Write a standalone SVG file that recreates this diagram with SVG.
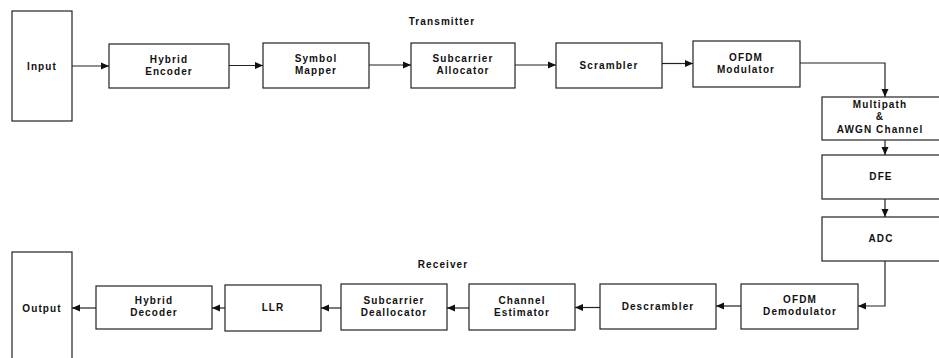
<svg xmlns="http://www.w3.org/2000/svg" width="939" height="358" viewBox="0 0 939 358">
<style>
.box{fill:#fff;stroke:#222;stroke-width:1.2}
.t{font-family:"Liberation Sans",Arial,sans-serif;font-weight:bold;font-size:10px;letter-spacing:1.1px;fill:#111;text-anchor:middle}
.c{fill:none;stroke:#222;stroke-width:1.2}
</style>
<defs>
<marker id="ah" markerUnits="userSpaceOnUse" markerWidth="9" markerHeight="8" refX="8" refY="4" orient="auto">
<path d="M0,0.5 L8,4 L0,7.5 Z" fill="#111"/>
</marker>
</defs>
<rect width="939" height="358" fill="#fff"/>
<text class="t" x="442" y="25">Transmitter</text>
<text class="t" x="443" y="268">Receiver</text>
<g id="input"><rect class="box" x="12" y="11" width="60" height="110"/><text class="t" x="42" y="70">Input</text></g>
<g id="hybrid-encoder"><rect class="box" x="109" y="44" width="120" height="44"/><text class="t" x="169" y="63">Hybrid</text><text class="t" x="169" y="75">Encoder</text></g>
<g id="symbol-mapper"><rect class="box" x="263" y="43" width="106" height="45"/><text class="t" x="316" y="62">Symbol</text><text class="t" x="316" y="74">Mapper</text></g>
<g id="subcarrier-allocator"><rect class="box" x="411" y="43" width="104" height="45"/><text class="t" x="463" y="62">Subcarrier</text><text class="t" x="463" y="74">Allocator</text></g>
<g id="scrambler"><rect class="box" x="556" y="43" width="106" height="45"/><text class="t" x="609" y="69">Scrambler</text></g>
<g id="ofdm-modulator"><rect class="box" x="693" y="41" width="107" height="46"/><text class="t" x="746" y="61">OFDM</text><text class="t" x="746" y="73">Modulator</text></g>
<g id="channel"><rect class="box" x="822" y="97" width="118" height="43"/><text class="t" x="880" y="108">Multipath</text><text class="t" x="880" y="120">&amp;</text><text class="t" x="880" y="133">AWGN Channel</text></g>
<g id="dfe"><rect class="box" x="822" y="155" width="118" height="44"/><text class="t" x="881" y="180">DFE</text></g>
<g id="adc"><rect class="box" x="822" y="217" width="118" height="44"/><text class="t" x="881" y="242">ADC</text></g>
<g id="ofdm-demodulator"><rect class="box" x="741" y="284" width="117" height="45"/><text class="t" x="800" y="303">OFDM</text><text class="t" x="800" y="315">Demodulator</text></g>
<g id="descrambler"><rect class="box" x="600" y="284" width="116" height="45"/><text class="t" x="658" y="310">Descrambler</text></g>
<g id="channel-estimator"><rect class="box" x="469" y="284" width="106" height="46"/><text class="t" x="522" y="304">Channel</text><text class="t" x="522" y="316">Estimator</text></g>
<g id="subcarrier-deallocator"><rect class="box" x="341" y="284" width="106" height="46"/><text class="t" x="394" y="304">Subcarrier</text><text class="t" x="394" y="316">Deallocator</text></g>
<g id="llr"><rect class="box" x="225" y="285" width="96" height="46"/><text class="t" x="273" y="311">LLR</text></g>
<g id="hybrid-decoder"><rect class="box" x="96" y="286" width="116" height="43"/><text class="t" x="154" y="304">Hybrid</text><text class="t" x="154" y="316">Decoder</text></g>
<g id="output"><rect class="box" x="12" y="252" width="60" height="110"/><text class="t" x="42" y="312">Output</text></g>
<g id="connectors">
<line class="c" x1="72" y1="66" x2="109" y2="66" marker-end="url(#ah)"/>
<line class="c" x1="229" y1="65.5" x2="263" y2="65.5" marker-end="url(#ah)"/>
<line class="c" x1="369" y1="65" x2="411" y2="65" marker-end="url(#ah)"/>
<line class="c" x1="515" y1="65" x2="556" y2="65" marker-end="url(#ah)"/>
<line class="c" x1="662" y1="63.5" x2="693" y2="63.5" marker-end="url(#ah)"/>
<polyline class="c" points="800,63 885,63 885,97" marker-end="url(#ah)"/>
<line class="c" x1="885" y1="140" x2="885" y2="155" marker-end="url(#ah)"/>
<line class="c" x1="885" y1="199" x2="885" y2="217" marker-end="url(#ah)"/>
<polyline class="c" points="885,261 885,306 858,306" marker-end="url(#ah)"/>
<line class="c" x1="741" y1="306" x2="716" y2="306" marker-end="url(#ah)"/>
<line class="c" x1="600" y1="307.5" x2="575" y2="307.5" marker-end="url(#ah)"/>
<line class="c" x1="469" y1="308" x2="447" y2="308" marker-end="url(#ah)"/>
<line class="c" x1="341" y1="308" x2="321" y2="308" marker-end="url(#ah)"/>
<line class="c" x1="225" y1="308" x2="212" y2="308" marker-end="url(#ah)"/>
<line class="c" x1="96" y1="308" x2="72" y2="308" marker-end="url(#ah)"/>
</g>
</svg>
